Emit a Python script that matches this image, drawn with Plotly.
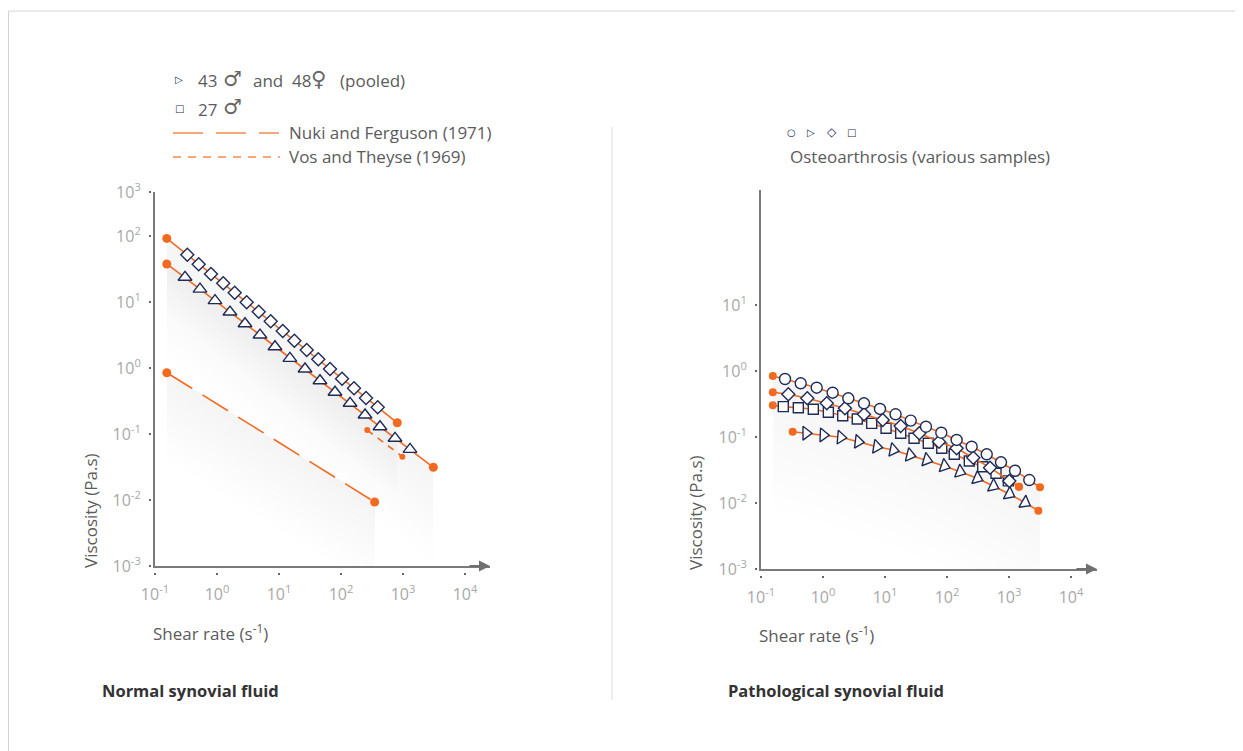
import numpy as np
import plotly.graph_objects as go

# the page places the figure at an 8 px body margin; reference pixel positions
# are converted to figure coordinates by removing that offset
OX, OY = 8, 8
FW, FH = 1243, 751

# ---------------- data: Normal synovial fluid (left) ----------------
# first and last points are the orange end dots, interior points carry markers
m27_rate = [0.155, 0.332, 0.507, 0.80, 1.26, 1.93, 3.01, 4.71, 7.35, 11.5, 17.7, 28.0,
            43.0, 66.5, 104, 162, 253, 391, 809]
m27_visc = [92, 52.1, 37.3, 26.6, 19.2, 13.8, 9.89, 7.13, 5.10, 3.64, 2.59, 1.87,
            1.36, 0.966, 0.689, 0.492, 0.351, 0.254, 0.148]

pooled_rate = [0.155, 0.305, 0.532, 0.929, 1.62, 2.83, 4.94, 8.62, 15.0, 26.3, 45.8,
               80.0, 140, 244, 426, 743, 1297, 3083]
pooled_visc = [37.7, 23.7, 15.7, 10.5, 7.05, 4.69, 3.16, 2.10, 1.40, 0.966, 0.642,
               0.429, 0.292, 0.194, 0.129, 0.0861, 0.0586, 0.0313]

nuki_rate = [0.155, 349]
nuki_visc = [0.849, 0.00933]

vos_rate = [265, 975]
vos_visc = [0.115, 0.0453]

# ---------------- data: Pathological synovial fluid (right) ----------------
circ_rate = [0.155, 0.244, 0.437, 0.791, 1.43, 2.56, 4.58, 8.30, 14.8, 26.0, 45.8, 80.9,
             143, 250, 437, 743, 1250, 2123, 3162]
circ_visc = [0.840, 0.756, 0.651, 0.558, 0.469, 0.386, 0.324, 0.266, 0.221, 0.177, 0.143,
             0.116, 0.0901, 0.0713, 0.0547, 0.0414, 0.0308, 0.0223, 0.0173]

diam_rate = [0.155, 0.276, 0.558, 1.15, 2.26, 4.58, 9.18, 17.9, 35.7, 74.3, 143, 265,
             494, 1012, 1449]
diam_visc = [0.476, 0.444, 0.386, 0.324, 0.272, 0.221, 0.181, 0.147, 0.114, 0.0849,
             0.0674, 0.0486, 0.0343, 0.0216, 0.0177]

sq_rate = [0.155, 0.229, 0.400, 0.698, 1.22, 2.08, 3.57, 6.10, 10.4, 17.9, 29.4, 49.9,
           82.2, 131, 229, 377, 617, 975, 1449]
sq_visc = [0.302, 0.288, 0.278, 0.263, 0.237, 0.210, 0.187, 0.161, 0.136, 0.114, 0.0955,
           0.0803, 0.0674, 0.0547, 0.0433, 0.0355, 0.0282, 0.0216, 0.0177]

tri_rate = [0.324, 0.532, 1.01, 1.93, 3.71, 7.35, 13.6, 25.3, 47.1, 90.4, 162, 308, 558,
            1012, 1811, 2972]
tri_visc = [0.120, 0.114, 0.107, 0.0989, 0.0849, 0.0713, 0.0635, 0.0533, 0.0449, 0.0364,
            0.0298, 0.0237, 0.0181, 0.0137, 0.0101, 0.00764]

# ---------------- ticks ----------------
x_tickvals = [0.1, 1, 10, 100, 1000, 10000]
x_ticktext = ["10<sup>-1</sup>", "10<sup>0</sup>", "10<sup>1</sup>", "10<sup>2</sup>",
              "10<sup>3</sup>", "10<sup>4</sup>"]
yl_tickvals = [10 ** 2.667, 100, 10, 1, 0.1, 0.01, 0.001]
yl_ticktext = ["10<sup>3</sup>", "10<sup>2</sup>", "10<sup>1</sup>", "10<sup>0</sup>",
               "10<sup>-1</sup>", "10<sup>-2</sup>", "10<sup>-3</sup>"]
yr_tickvals = [10, 1, 0.1, 0.01, 0.001]
yr_ticktext = ["10<sup>1</sup>", "10<sup>0</sup>", "10<sup>-1</sup>", "10<sup>-2</sup>",
               "10<sup>-3</sup>"]

# ---------------- style ----------------
ORANGE = "#f26a1f"
ORANGE_L = "#f38a4e"
NAVY = "#1f2b57"
TXT = "#5b5b5b"
TICK = "#a8a8a8"
AXIS = "#7a7a7a"
FONT = "'Open Sans', Lato, Roboto, sans-serif"
SYMFONT = "DejaVu Sans, sans-serif"

fig = go.Figure()


def px_x(p):
    return (p - OX) / FW


def px_y(p):
    return 1 - (p - OY) / FH


def shade(rate, visc, xa, ya, depth, n=10, total=0.10):
    a = total / n
    for k in range(1, n + 1):
        d = depth * k / n
        xs = list(rate) + list(rate[::-1])
        ys = list(visc) + [v / 10 ** d for v in visc[::-1]]
        fig.add_trace(go.Scatter(x=xs, y=ys, xaxis=xa, yaxis=ya, mode="lines",
                                 fill="toself", fillcolor=f"rgba(140,150,150,{a:.4f})",
                                 line=dict(width=0, color="rgba(0,0,0,0)"),
                                 hoverinfo="skip", showlegend=False))


def curve(rate, visc, xa, ya, symbol=None, msize=9, dot=9, dash="solid", angle=None):
    fig.add_trace(go.Scatter(x=rate, y=visc, xaxis=xa, yaxis=ya, mode="lines",
                             line=dict(color=ORANGE, width=1.6, dash=dash),
                             hoverinfo="skip", showlegend=False))
    fig.add_trace(go.Scatter(x=[rate[0], rate[-1]], y=[visc[0], visc[-1]], xaxis=xa,
                             yaxis=ya, mode="markers",
                             marker=dict(color=ORANGE, size=dot, line=dict(width=0)),
                             hoverinfo="skip", showlegend=False, cliponaxis=False))
    if symbol:
        mk = dict(symbol=symbol, size=msize, color="white",
                  line=dict(color=NAVY, width=1.4))
        if angle is not None:
            mk["angle"] = angle
        fig.add_trace(go.Scatter(x=rate[1:-1], y=visc[1:-1], xaxis=xa, yaxis=ya,
                                 mode="markers", marker=mk, hoverinfo="skip",
                                 showlegend=False, cliponaxis=False))


# shading (left)
shade(m27_rate, m27_visc, "x", "y", 1.1, total=0.07)
shade(pooled_rate, pooled_visc, "x", "y", 1.4, total=0.08)
shade(nuki_rate, nuki_visc, "x", "y", 1.3, total=0.10)
# shading (right)
shade(circ_rate, circ_visc, "x2", "y2", 2.0, total=0.09)
shade(tri_rate, tri_visc, "x2", "y2", 1.0, total=0.04)

# curves left
curve(nuki_rate, nuki_visc, "x", "y", dash="30px,12px")
curve(vos_rate, vos_visc, "x", "y", dash="7px,6px", dot=6)
curve(m27_rate, m27_visc, "x", "y", symbol="diamond", msize=10)
curve(pooled_rate, pooled_visc, "x", "y", symbol="triangle-up", msize=12)

# curves right
curve(tri_rate, tri_visc, "x2", "y2", symbol="triangle-right", msize=12, dot=8,
      angle=list(np.linspace(0, 30, len(tri_rate) - 2)))
curve(sq_rate, sq_visc, "x2", "y2", symbol="square", msize=10, dot=8)
curve(diam_rate, diam_visc, "x2", "y2", symbol="diamond", msize=10, dot=8)
curve(circ_rate, circ_visc, "x2", "y2", symbol="circle", msize=11, dot=8)

# empty traces to host the overlay tick axes
for xa, ya in [("x3", "y"), ("x", "y3"), ("x4", "y2"), ("x2", "y4")]:
    fig.add_trace(go.Scatter(x=[], y=[], xaxis=xa, yaxis=ya, showlegend=False,
                             hoverinfo="skip"))

# axis geometry (reference pixels)
L_X0, L_X1, L_Y0, L_Y1 = 155, 490, 566, 192
R_X0, R_X1, R_Y0, R_Y1 = 761, 1097, 569, 190
LX_RANGE = [-1, 4.403]
RX_RANGE = [-1, 4.419]
LY_RANGE = [-3, 2.667]
RY_RANGE = [-3, 2.742]

base = dict(showgrid=False, zeroline=False, ticks="", showticklabels=False,
            type="log", fixedrange=True, automargin=False)
tickfont = dict(family=FONT, size=16, color=TICK)

fig.update_layout(
    xaxis=dict(base, domain=[px_x(L_X0), px_x(L_X1)], range=LX_RANGE, anchor="y",
               showline=True, linecolor=AXIS, linewidth=2),
    yaxis=dict(base, domain=[px_y(L_Y0), px_y(L_Y1)], range=LY_RANGE, anchor="x",
               showline=True, linecolor=AXIS, linewidth=1.5),
    xaxis2=dict(base, domain=[px_x(R_X0), px_x(R_X1)], range=RX_RANGE, anchor="y2",
                showline=True, linecolor=AXIS, linewidth=2),
    yaxis2=dict(base, domain=[px_y(R_Y0), px_y(R_Y1)], range=RY_RANGE, anchor="x2",
                showline=True, linecolor=AXIS, linewidth=1.5),
    # overlay axes drawing the detached tick dots and labels
    xaxis3=dict(base, overlaying="x", anchor="free", position=px_y(572), range=LX_RANGE,
                ticks="outside", ticklen=2, tickwidth=2, tickcolor="#666",
                showticklabels=True, tickvals=x_tickvals, ticktext=x_ticktext,
                tickfont=tickfont, ticklabelstandoff=6, showline=False),
    yaxis3=dict(base, overlaying="y", anchor="free", position=px_x(151), range=LY_RANGE,
                ticks="outside", ticklen=2, tickwidth=2, tickcolor="#666",
                showticklabels=True, tickvals=yl_tickvals, ticktext=yl_ticktext,
                tickfont=tickfont, ticklabelstandoff=5, showline=False, side="left"),
    xaxis4=dict(base, overlaying="x2", anchor="free", position=px_y(575), range=RX_RANGE,
                ticks="outside", ticklen=2, tickwidth=2, tickcolor="#666",
                showticklabels=True, tickvals=x_tickvals, ticktext=x_ticktext,
                tickfont=tickfont, ticklabelstandoff=6, showline=False),
    yaxis4=dict(base, overlaying="y2", anchor="free", position=px_x(757), range=RY_RANGE,
                ticks="outside", ticklen=2, tickwidth=2, tickcolor="#666",
                showticklabels=True, tickvals=yr_tickvals, ticktext=yr_ticktext,
                tickfont=tickfont, ticklabelstandoff=5, showline=False, side="left"),
    width=FW, height=FH, margin=dict(l=0, r=0, t=0, b=0, pad=0),
    paper_bgcolor="white", plot_bgcolor="rgba(0,0,0,0)",
    font=dict(family=FONT, color=TXT),
    showlegend=False,
)

ann = []


def text(x, y, s, size=17, color=TXT, anchor="left", angle=0, family=FONT):
    ann.append(dict(x=px_x(x), y=px_y(y), xref="paper", yref="paper", text=s,
                    showarrow=False, xanchor=anchor, yanchor="middle", textangle=angle,
                    font=dict(family=family, size=size, color=color)))


# arrow heads on x axes
for tipx, tipy in [(L_X1, L_Y0), (R_X1, R_Y0)]:
    ann.append(dict(x=px_x(tipx), y=px_y(tipy), xref="paper", yref="paper", text="",
                    showarrow=True, ax=-22, ay=0, arrowhead=2, arrowsize=1.1,
                    arrowwidth=2, arrowcolor="#6f6f6f", standoff=0))

# axis titles
text(90, 511, "Viscosity (Pa.s)", anchor="center", angle=-90)
text(696, 513, "Viscosity (Pa.s)", anchor="center", angle=-90)
text(151, 632, "Shear rate (s<sup>-1</sup>)")
text(757, 634, "Shear rate (s<sup>-1</sup>)")

# panel captions
text(100, 690, "<b>Normal synovial fluid</b>", size=16.5, color="#333333")
text(726, 690, "<b>Pathological synovial fluid</b>", size=16.5, color="#333333")

# left legend
text(179, 80, "▷", size=10, color=NAVY, anchor="center", family=SYMFONT)
text(196, 81, "43")
text(232, 79, "♂", size=21, color="#666666", anchor="center", family=SYMFONT)
text(251, 81, "and  48")
text(318, 79, "♀", size=21, color="#666666", anchor="center", family=SYMFONT)
text(338, 81, "(pooled)")
text(179, 108, "□", size=10, color=NAVY, anchor="center", family=SYMFONT)
text(196, 109, "27")
text(232, 107, "♂", size=21, color="#666666", anchor="center", family=SYMFONT)
text(287, 133, "Nuki and Ferguson (1971)")
text(287, 157, "Vos and Theyse (1969)")

# right legend
for xx, s, sz in [(791, "○", 10), (811, "▷", 10), (832, "◇", 12), (852, "□", 10)]:
    text(xx, 132, s, size=sz, color=NAVY, anchor="center", family=SYMFONT)
text(788, 156, "Osteoarthrosis (various samples)")

shapes = [
    # legend line samples
    dict(type="line", xref="paper", yref="paper", x0=px_x(173), x1=px_x(279),
         y0=px_y(133), y1=px_y(133), line=dict(color=ORANGE_L, width=1.5, dash="30px,13px")),
    dict(type="line", xref="paper", yref="paper", x0=px_x(173), x1=px_x(280),
         y0=px_y(157), y1=px_y(157), line=dict(color=ORANGE_L, width=1.5, dash="8px,7px")),
    # divider
    dict(type="line", xref="paper", yref="paper", x0=px_x(612), x1=px_x(612),
         y0=px_y(127), y1=px_y(700), line=dict(color="#dcdcdc", width=1)),
    # outer frame (top and left edges)
    dict(type="line", xref="paper", yref="paper", x0=px_x(8.5), x1=1.0,
         y0=px_y(11), y1=px_y(11), line=dict(color="#d4d4d4", width=1)),
    dict(type="line", xref="paper", yref="paper", x0=px_x(8.5), x1=px_x(8.5),
         y0=px_y(11), y1=0, line=dict(color="#d4d4d4", width=1)),
]

fig.update_layout(annotations=ann, shapes=shapes)
fig.write_html("out.html")
